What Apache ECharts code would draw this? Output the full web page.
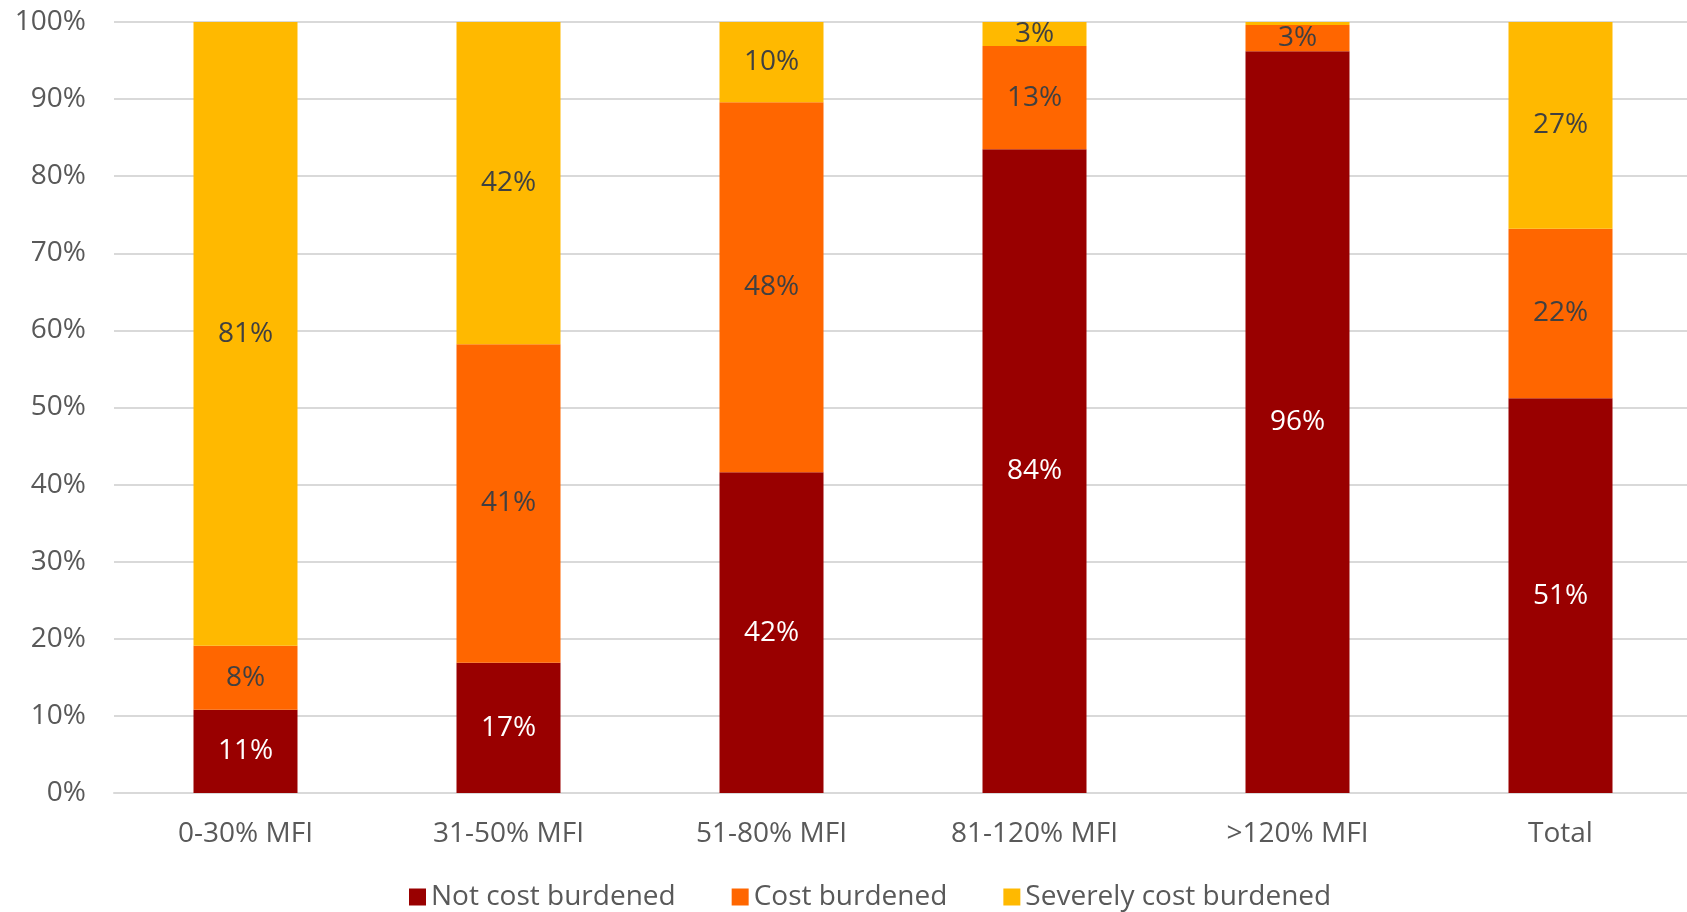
<!DOCTYPE html>
<html><head><meta charset="utf-8">
<script src="https://cdn.jsdelivr.net/npm/echarts@6/dist/echarts.min.js"></script>
<style>html,body{margin:0;padding:0;background:#fff}#c{width:1687px;height:912px}</style>
</head><body><div id="c"></div>
<script>
const categories = ['0-30% MFI','31-50% MFI','51-80% MFI','81-120% MFI','>120% MFI','Total'];
const notBurdened = [10.8, 16.9, 41.6, 83.5, 96.2, 51.2];
const costBurdened = [8.3, 41.3, 48.0, 13.4, 3.4, 22.0];
const severelyBurdened = [80.9, 41.8, 10.4, 3.1, 0.4, 26.8];
const yTicks = [0,10,20,30,40,50,60,70,80,90,100];

const FONT = 'Open Sans';
const FS = 28;
function lbl(color){
  return {show:true, position:'inside', color:color, fontFamily:FONT, fontSize:FS,
    formatter:p => p.value < 1 ? '' : Math.round(p.value)+'%'};
}
const chart = echarts.init(document.getElementById('c'));
chart.setOption({
  animation:false,
  grid:{left:114, width:1578, top:22, bottom:119, containLabel:false, outerBoundsMode:'none'},
  legend:{bottom:-4, left:404, itemWidth:17, itemHeight:17, itemGap:56, icon:'rect',
    textStyle:{fontFamily:FONT, fontSize:FS, color:'#595959'}},
  xAxis:{type:'category', data:categories,
    axisLine:{lineStyle:{color:'#D9D9D9', width:2}}, axisTick:{show:false},
    axisLabel:{fontFamily:FONT, fontSize:FS, color:'#595959', margin:27}},
  yAxis:{type:'value', min:0, max:100, interval:10,
    axisLabel:{fontFamily:FONT, fontSize:FS, color:'#595959', margin:28,
      formatter:v => yTicks.includes(v) ? v+'%' : ''},
    splitLine:{lineStyle:{color:'#D9D9D9', width:2}}, axisLine:{show:false}, axisTick:{show:false}},
  series:[
    {name:'Not cost burdened', type:'bar', stack:'a', barWidth:104, data:notBurdened,
      itemStyle:{color:'#990000'}, label:lbl('#FFFFFF')},
    {name:'Cost burdened', type:'bar', stack:'a', data:costBurdened,
      itemStyle:{color:'#FF6600'}, label:lbl('#404040')},
    {name:'Severely cost burdened', type:'bar', stack:'a', data:severelyBurdened,
      itemStyle:{color:'#FFB900'}, label:lbl('#404040')}
  ]
});
</script></body></html>
